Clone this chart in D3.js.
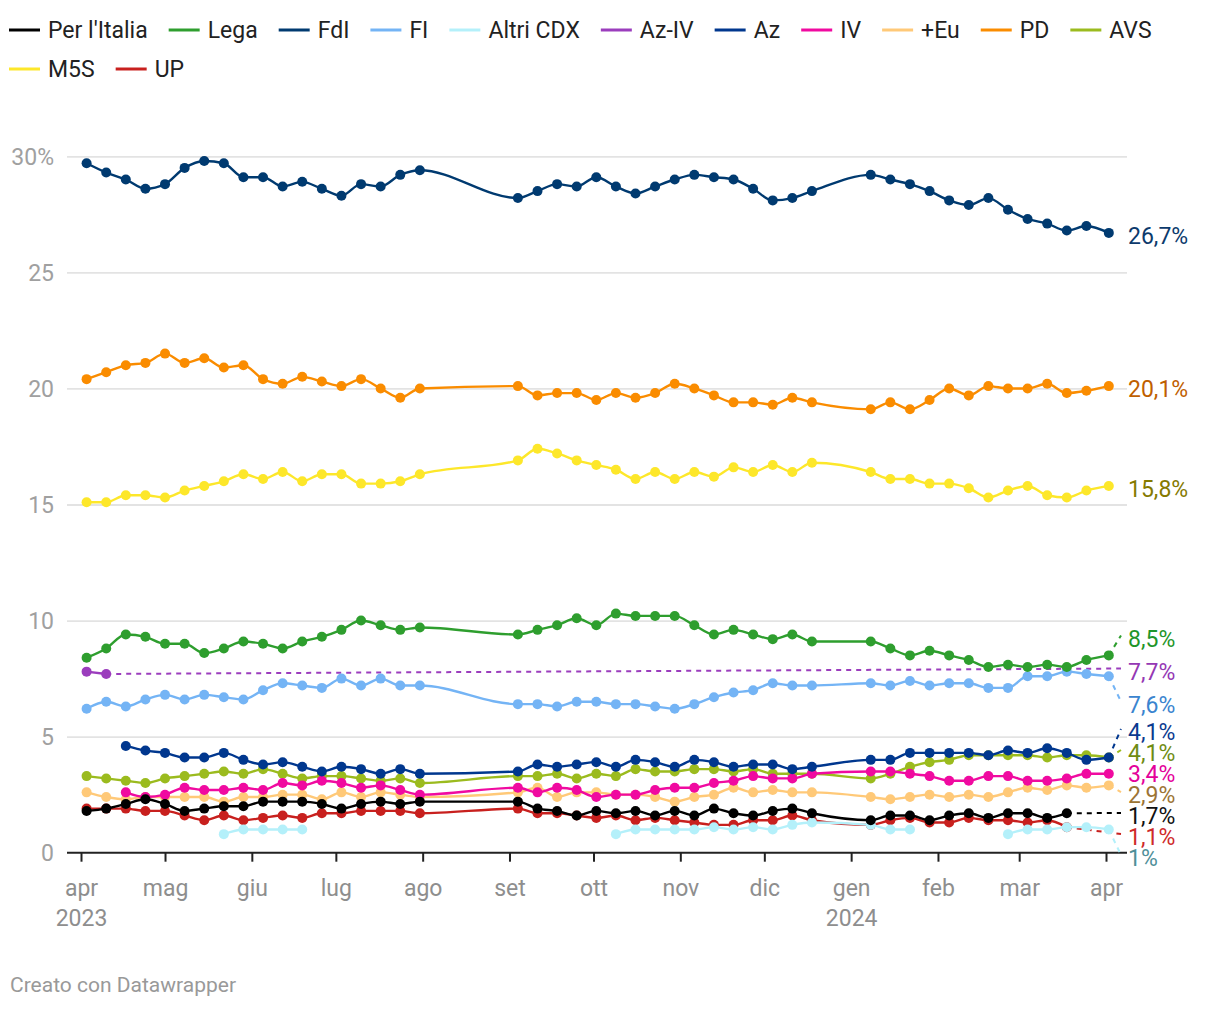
<!DOCTYPE html>
<html><head><meta charset="utf-8">
<script src="https://cdn.jsdelivr.net/npm/d3@7"></script>
<style>
body{margin:0;background:#fff;}
svg{font-family:Roboto,"Noto Sans",sans-serif;}
</style>
</head><body>
<svg id="chart" width="1220" height="1024"></svg>
<script>
// ---------- DATA ----------
const dates = [
  "2023-04-03","2023-04-10","2023-04-17","2023-04-24","2023-05-01","2023-05-08","2023-05-15","2023-05-22","2023-05-29",
  "2023-06-05","2023-06-12","2023-06-19","2023-06-26","2023-07-03","2023-07-10","2023-07-17","2023-07-24","2023-07-31",
  "2023-09-04","2023-09-11","2023-09-18","2023-09-25","2023-10-02","2023-10-09","2023-10-16","2023-10-23","2023-10-30",
  "2023-11-06","2023-11-13","2023-11-20","2023-11-27","2023-12-04","2023-12-11","2023-12-18",
  "2024-01-08","2024-01-15","2024-01-22","2024-01-29","2024-02-05","2024-02-12","2024-02-19","2024-02-26",
  "2024-03-04","2024-03-11","2024-03-18","2024-03-25","2024-04-02"
];
const seriesNames = ["Per l'Italia","Lega","FdI","FI","Altri CDX","Az-IV","Az","IV","+Eu","PD","AVS","M5S","UP"];

const perItalia = [1.8,1.9,2.1,2.3,2.1,1.8,1.9,2.0,2.0,2.2,2.2,2.2,2.1,1.9,2.1,2.2,2.1,2.2,
  2.2,1.9,1.8,1.6,1.8,1.7,1.8,1.6,1.8,1.6,1.9,1.7,1.6,1.8,1.9,1.7,
  1.4,1.6,1.6,1.4,1.6,1.7,1.5,1.7,1.7,1.5,1.7,null,null];
const lega = [8.4,8.8,9.4,9.3,9.0,9.0,8.6,8.8,9.1,9.0,8.8,9.1,9.3,9.6,10.0,9.8,9.6,9.7,
  9.4,9.6,9.8,10.1,9.8,10.3,10.2,10.2,10.2,9.8,9.4,9.6,9.4,9.2,9.4,9.1,
  9.1,8.8,8.5,8.7,8.5,8.3,8.0,8.1,8.0,8.1,8.0,8.3,8.5];
const fdi = [29.7,29.3,29.0,28.6,28.8,29.5,29.8,29.7,29.1,29.1,28.7,28.9,28.6,28.3,28.8,28.7,29.2,29.4,
  28.2,28.5,28.8,28.7,29.1,28.7,28.4,28.7,29.0,29.2,29.1,29.0,28.6,28.1,28.2,28.5,
  29.2,29.0,28.8,28.5,28.1,27.9,28.2,27.7,27.3,27.1,26.8,27.0,26.7];
const fi = [6.2,6.5,6.3,6.6,6.8,6.6,6.8,6.7,6.6,7.0,7.3,7.2,7.1,7.5,7.2,7.5,7.2,7.2,
  6.4,6.4,6.3,6.5,6.5,6.4,6.4,6.3,6.2,6.4,6.7,6.9,7.0,7.3,7.2,7.2,
  7.3,7.2,7.4,7.2,7.3,7.3,7.1,7.1,7.6,7.6,7.8,7.7,7.6];
const altriCdx = [null,null,null,null,null,null,null,0.8,1.0,1.0,1.0,1.0,null,null,null,null,null,null,
  null,null,null,null,null,0.8,1.0,1.0,1.0,1.0,1.1,1.0,1.1,1.0,1.2,1.3,
  1.2,1.0,1.0,null,null,null,null,0.8,1.0,1.0,1.1,1.1,1.0];
const azIv = [7.8,7.7,null,null,null,null,null,null,null,null,null,null,null,null,null,null,null,null,
  null,null,null,null,null,null,null,null,null,null,null,null,null,null,null,null,
  null,null,null,null,null,null,null,null,null,null,null,null,null];
const az = [null,null,4.6,4.4,4.3,4.1,4.1,4.3,4.0,3.8,3.9,3.7,3.5,3.7,3.6,3.4,3.6,3.4,
  3.5,3.8,3.7,3.8,3.9,3.7,4.0,3.9,3.7,4.0,3.9,3.7,3.8,3.8,3.6,3.7,
  4.0,4.0,4.3,4.3,4.3,4.3,4.2,4.4,4.3,4.5,4.3,4.0,4.1];
const iv = [null,null,2.6,2.4,2.5,2.8,2.7,2.7,2.8,2.7,3.0,2.9,3.1,3.0,2.8,2.9,2.7,2.5,
  2.8,2.6,2.8,2.7,2.4,2.5,2.5,2.7,2.8,2.8,3.0,3.1,3.3,3.2,3.2,3.4,
  3.5,3.5,3.4,3.3,3.1,3.1,3.3,3.3,3.1,3.1,3.2,3.4,3.4];
const piuEu = [2.6,2.4,2.3,2.4,2.4,2.4,2.4,2.2,2.4,2.4,2.5,2.5,2.3,2.6,2.4,2.6,2.5,2.4,
  2.6,2.8,2.4,2.6,2.6,2.5,2.5,2.4,2.2,2.4,2.5,2.8,2.6,2.7,2.6,2.6,
  2.4,2.3,2.4,2.5,2.4,2.5,2.4,2.6,2.8,2.7,2.9,2.8,2.9];
const pd = [20.4,20.7,21.0,21.1,21.5,21.1,21.3,20.9,21.0,20.4,20.2,20.5,20.3,20.1,20.4,20.0,19.6,20.0,
  20.1,19.7,19.8,19.8,19.5,19.8,19.6,19.8,20.2,20.0,19.7,19.4,19.4,19.3,19.6,19.4,
  19.1,19.4,19.1,19.5,20.0,19.7,20.1,20.0,20.0,20.2,19.8,19.9,20.1];
const avs = [3.3,3.2,3.1,3.0,3.2,3.3,3.4,3.5,3.4,3.6,3.4,3.2,3.3,3.3,3.2,3.1,3.2,3.0,
  3.3,3.3,3.4,3.2,3.4,3.3,3.6,3.5,3.5,3.6,3.6,3.5,3.6,3.4,3.4,3.4,
  3.2,3.4,3.7,3.9,4.0,4.2,4.2,4.2,4.2,4.1,4.2,4.2,4.1];
const m5s = [15.1,15.1,15.4,15.4,15.3,15.6,15.8,16.0,16.3,16.1,16.4,16.0,16.3,16.3,15.9,15.9,16.0,16.3,
  16.9,17.4,17.2,16.9,16.7,16.5,16.1,16.4,16.1,16.4,16.2,16.6,16.4,16.7,16.4,16.8,
  16.4,16.1,16.1,15.9,15.9,15.7,15.3,15.6,15.8,15.4,15.3,15.6,15.8];
const up = [1.9,1.9,1.9,1.8,1.8,1.6,1.4,1.6,1.4,1.5,1.6,1.5,1.7,1.7,1.8,1.8,1.8,1.7,
  1.9,1.7,1.7,1.6,1.5,1.6,1.4,1.5,1.4,1.3,1.2,1.2,1.4,1.4,1.6,1.4,
  1.2,1.4,1.5,1.3,1.3,1.5,1.4,1.4,1.3,1.4,1.1,null,null];

const seriesValues = [perItalia, lega, fdi, fi, altriCdx, azIv, az, iv, piuEu, pd, avs, m5s, up];
const yTicks = [0,5,10,15,20,25,30];
const xTickStart = "2023-04-01", xTickEnd = "2024-04-01";
const creditText = "Creato con Datawrapper";

// ---------- STYLE ----------
const lineColors = ["#000000","#2e9e2e","#003a70","#74b4f5","#b4f0fa","#9b3dbd","#00378e","#f00aa0","#ffc978","#fa8c00","#9bbb1e","#fde72a","#c8201e"];
const labelColors = ["#111111","#1f962a","#0c3a6c","#3a84cf","#4f8f99","#9538b4","#0b3a8f","#e4009a","#9c7434","#bf5f00","#6f8c12","#857a00","#cf2a2a"];

// ---------- SETUP ----------
const svg = d3.select("#chart");
const parse = d3.timeParse("%Y-%m-%d");
const dateObjs = dates.map(parse);
const plotL = 67, plotR = 1127;
const x = d3.scaleTime().domain([parse(xTickStart), parse(xTickEnd)]).range([81, 1106]);
const y = d3.scaleLinear().domain([0, 30]).range([852.7, 156.3]);

const itLocale = d3.timeFormatLocale({
  dateTime: "%A %e %B %Y, %X", date: "%d/%m/%Y", time: "%H:%M:%S",
  periods: ["", ""],
  days: ["domenica","lunedì","martedì","mercoledì","giovedì","venerdì","sabato"],
  shortDays: ["dom","lun","mar","mer","gio","ven","sab"],
  months: ["gennaio","febbraio","marzo","aprile","maggio","giugno","luglio","agosto","settembre","ottobre","novembre","dicembre"],
  shortMonths: ["gen","feb","mar","apr","mag","giu","lug","ago","set","ott","nov","dic"]
});
const numLocale = d3.formatLocale({decimal: ",", thousands: ".", grouping: [3], currency: ["€", ""]});
const fmtPct = v => (Math.abs(v - Math.round(v)) < 1e-9 ? numLocale.format(".0f")(v) : numLocale.format(".1f")(v)) + "%";

// ---------- Y AXIS / GRID ----------
const yAxis = d3.axisLeft(y).tickValues(yTicks).tickSize(-(plotR - plotL)).tickPadding(13)
  .tickFormat(d => d === 30 ? "30%" : d);
const gy = svg.append("g").attr("transform", `translate(${plotL},0)`).call(yAxis);
gy.select(".domain").remove();
gy.selectAll(".tick line").attr("stroke", "#e3e3e3").attr("stroke-width", 1.8)
  .filter(d => d === 0).remove();
gy.selectAll(".tick text").attr("fill", "#a0a0a0").attr("font-size", 23)
  .attr("font-family", "Roboto, sans-serif").attr("dy", "0.34em");

// ---------- X AXIS ----------
const monthTicks = d3.timeMonth.range(parse(xTickStart), d3.timeDay.offset(parse(xTickEnd), 1));
const xAxis = d3.axisBottom(x).tickValues(monthTicks).tickSize(9).tickPadding(18)
  .tickFormat(itLocale.format("%b"));
const gx = svg.append("g").attr("transform", `translate(0,${y(0)})`).call(xAxis);
gx.select(".domain").remove();
gx.selectAll(".tick line").attr("stroke", "#222").attr("stroke-width", 2);
gx.selectAll(".tick text").attr("fill", "#8e8e8e").attr("font-size", 23)
  .attr("font-family", "Roboto, sans-serif");
gx.selectAll(".tick").filter((d, i) => i === 0 || d.getMonth() === 0)
  .append("text").attr("y", 73).attr("fill", "#8e8e8e").attr("font-size", 23)
  .attr("text-anchor", "middle").attr("font-family", "Roboto, sans-serif")
  .text(d => d.getFullYear());
svg.append("line").attr("x1", plotL).attr("x2", plotR).attr("y1", y(0)).attr("y2", y(0))
  .attr("stroke", "#222").attr("stroke-width", 2);

// ---------- SERIES ----------
const series = seriesNames.map((name, i) => ({
  name, i,
  color: lineColors[i], labelColor: labelColors[i],
  pts: seriesValues[i].map((v, k) => ({date: dateObjs[k], v}))
}));

const lineGen = d3.line().defined(d => d.v != null)
  .x(d => x(d.date)).y(d => y(d.v)).curve(d3.curveMonotoneX);

// labels: compute anchors with simple collision avoidance
const labelGap = 21, looseGap = 33;
const labelItems = series.map(s => {
  let last = null;
  s.pts.forEach(p => { if (p.v != null) last = p; });
  return {s, last, t: y(last.v)};
}).sort((a, b) => a.t - b.t);
let blocks = labelItems.map(it => ({items: [it], sum: it.t, n: 1}));
let merged = true;
while (merged) {
  merged = false;
  for (let i = 0; i < blocks.length - 1; i++) {
    const a = blocks[i], b = blocks[i + 1];
    const aBot = a.sum / a.n + (a.n - 1) / 2 * labelGap;
    const bTop = b.sum / b.n - (b.n - 1) / 2 * labelGap;
    if (bTop - aBot < labelGap) {
      blocks.splice(i, 2, {items: a.items.concat(b.items), sum: a.sum + b.sum, n: a.n + b.n});
      merged = true; break;
    }
  }
}
blocks.forEach((b, bi) => {
  const c = b.sum / b.n;
  // small clusters get more breathing room when neighbours allow it
  let g = labelGap;
  if (b.n > 1 && b.n <= 3) {
    const prev = blocks[bi - 1], next = blocks[bi + 1];
    const top = c - (b.n - 1) / 2 * looseGap, bot = c + (b.n - 1) / 2 * looseGap;
    const prevBot = prev ? prev.sum / prev.n + (prev.n - 1) / 2 * labelGap : -1e9;
    const nextTop = next ? next.sum / next.n - (next.n - 1) / 2 * labelGap : 1e9;
    if (top - prevBot >= labelGap && nextTop - bot >= labelGap) g = looseGap;
  }
  b.items.forEach((it, k) => { it.anchor = c + (k - (b.n - 1) / 2) * g; });
});

// draw in reverse legend order (first legend item on top)
const drawOrder = series.slice().reverse();
const gLines = svg.append("g");
drawOrder.forEach(s => {
  const g = gLines.append("g");
  const it = labelItems.find(l => l.s === s);
  const lastX = x(it.last.date), lastY = y(it.last.v);
  const needConn = (it.last.date < dateObjs[dateObjs.length - 1]) || Math.abs(it.anchor - lastY) > 3;
  if (needConn) {
    g.append("line").attr("x1", lastX).attr("y1", lastY).attr("x2", 1121).attr("y2", it.anchor)
      .attr("stroke", s.color).attr("stroke-width", 2).attr("stroke-dasharray", "5,5");
  }
  g.append("path").datum(s.pts).attr("d", lineGen).attr("fill", "none")
    .attr("stroke", s.color).attr("stroke-width", 2.4);
  g.selectAll("circle").data(s.pts.filter(p => p.v != null)).join("circle")
    .attr("cx", d => x(d.date)).attr("cy", d => y(d.v)).attr("r", 5).attr("fill", s.color);
});

// right-side value labels
svg.append("g").selectAll("text").data(labelItems).join("text")
  .attr("x", 1128).attr("y", d => d.anchor + 11)
  .attr("fill", d => d.s.labelColor).attr("font-size", 23)
  .text(d => fmtPct(d.last.v));

// ---------- LEGEND ----------
const gLeg = svg.append("g").attr("font-size", 23).attr("fill", "#222");
let lx = 9, ly = 30;
series.forEach(s => {
  const g = gLeg.append("g");
  const t = g.append("text").attr("x", lx + 39).attr("y", ly + 8).text(s.name);
  const w = t.node().getComputedTextLength();
  if (lx + 39 + w > 1210) {
    lx = 9; ly += 39;
    t.attr("x", lx + 39).attr("y", ly + 8);
  }
  g.append("line").attr("x1", lx).attr("x2", lx + 31).attr("y1", ly).attr("y2", ly)
    .attr("stroke", s.color).attr("stroke-width", 3);
  lx = lx + 39 + w + 21;
});

// ---------- CREDIT ----------
svg.append("text").attr("x", 10).attr("y", 992).attr("font-size", 21).attr("fill", "#999")
  .text(creditText);
</script>
</body></html>
